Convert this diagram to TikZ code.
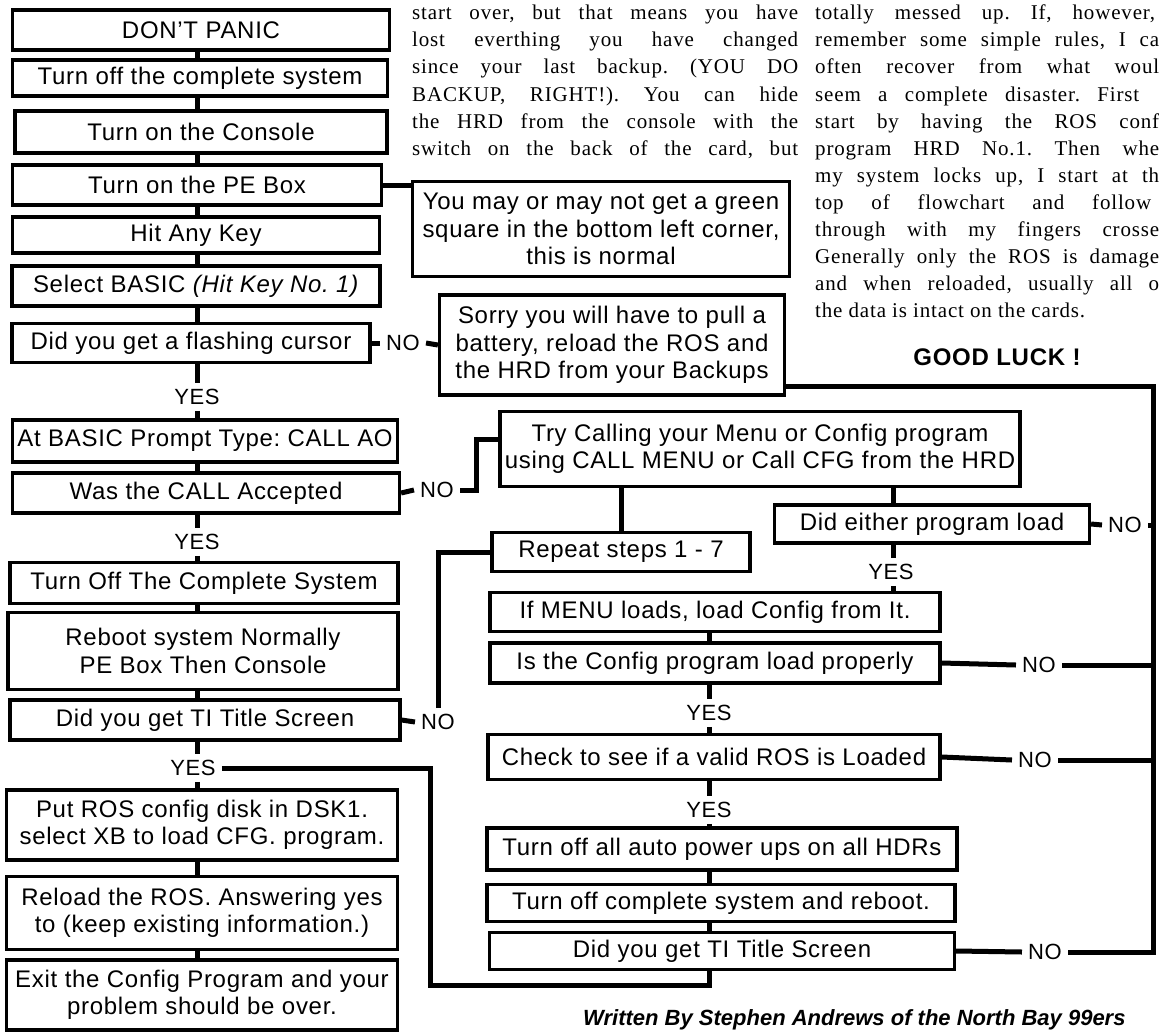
\documentclass[tikz,border=0pt]{standalone}
\usepackage{fontspec}
\setmainfont{Liberation Serif}[LetterSpace=4]
\setsansfont{Liberation Sans}[LetterSpace=3]
\newfontfamily\creditfont{Liberation Sans}
\usetikzlibrary{positioning}
\frenchspacing
\newcommand{\boxsize}{\fontsize{24}{27.5}\selectfont\sffamily}
\newcommand{\notesize}{\fontsize{21}{27}\selectfont\rmfamily}
\newcommand{\jline}[2]{\makebox[#1][s]{#2}}
\tikzset{stepbox/.style={draw=black, line width=3.2pt, fill=white, font=\boxsize, inner sep=0pt, align=center},
  link/.style={line width=5pt},
  answer/.style={font=\fontsize{22}{26}\selectfont\sffamily, inner sep=6pt},
  noteline/.style={font=\notesize, anchor=base west, inner sep=0pt},}

\begin{document}
\begin{tikzpicture}[x=1pt, y=-1pt]
\useasboundingbox (0,0) rectangle (1159,1033);
\clip (0,0) rectangle (1159,1033);
% notes at the top
\node [noteline] (mid1) at (412,20) {\jline{386pt}{start over, but that means you have}};
\node [noteline] (mid2) at (412,47) {\jline{386pt}{lost everthing you have changed}};
\node [noteline] (mid3) at (412,74) {\jline{386pt}{since your last backup. (YOU DO}};
\node [noteline] (mid4) at (412,101) {\jline{386pt}{BACKUP, RIGHT!). You can hide}};
\node [noteline] (mid5) at (412,128) {\jline{386pt}{the HRD from the console with the}};
\node [noteline] (mid6) at (412,155) {\jline{386pt}{switch on the back of the card, but}};
\node [noteline] (side1) at (815,20) {\jline{340pt}{totally messed up. If, however,}};
\node [noteline] (side2) at (815,47) {\jline{344pt}{remember some simple rules, I ca}};
\node [noteline] (side3) at (815,74) {\jline{344pt}{often recover from what woul}};
\node [noteline] (side4) at (815,101) {\jline{324pt}{seem a complete disaster. First}};
\node [noteline] (side5) at (815,128) {\jline{344pt}{start by having the ROS conf}};
\node [noteline] (side6) at (815,155) {\jline{344pt}{program HRD No.1. Then whe}};
\node [noteline] (side7) at (815,182) {\jline{344pt}{my system locks up, I start at th}};
\node [noteline] (side8) at (815,209) {\jline{336pt}{top of flowchart and follow}};
\node [noteline] (side9) at (815,236) {\jline{344pt}{through with my fingers crosse}};
\node [noteline] (side10) at (815,263) {\jline{344pt}{Generally only the ROS is damage}};
\node [noteline] (side11) at (815,290) {\jline{344pt}{and when reloaded, usually all o}};
\node [noteline] (side12) at (815,317) {the data is intact on the cards.};
\node [font=\fontsize{24}{28}\selectfont\sffamily\bfseries, inner sep=0pt] (luck) at (997,357) {GOOD LUCK !};
% left column
\node [stepbox, minimum width=377pt, minimum height=40pt] (panic) at (201,30) {DON'T PANIC};
\node [stepbox, minimum width=375pt, minimum height=36pt] (offsys) at (200,78) {Turn off the complete system};
\node [stepbox, minimum width=372pt, minimum height=42pt] (console) at (201,132) {Turn on the Console};
\node [stepbox, minimum width=369pt, minimum height=40pt] (pebox) at (197,185) {Turn on the PE Box};
\node [stepbox, minimum width=367pt, minimum height=36pt] (anykey) at (196,235) {Hit Any Key};
\node [stepbox, minimum width=368pt, minimum height=40pt] (basic) at (196,286) {Select BASIC \textit{(Hit Key No. 1)}};
\node [stepbox, minimum width=358pt, minimum height=39pt] (cursor) at (191,343) {Did you get a flashing cursor};
\node [answer] (yes1) at (197,397) {YES};
\node [stepbox, minimum width=385pt, minimum height=42pt] (prompt) at (205,441) {At BASIC Prompt Type: CALL AO};
\node [stepbox, minimum width=387pt, minimum height=40pt] (accepted) at (206,493) {Was the CALL Accepted};
\node [answer] (yes2) at (197,542) {YES};
\node [stepbox, minimum width=388pt, minimum height=41pt] (offall) at (204,583) {Turn Off The Complete System};
\node [stepbox, minimum width=390pt, minimum height=77pt] (reboot) at (203,651) {Reboot system Normally\\PE Box Then Console};
\node [stepbox, minimum width=390pt, minimum height=40pt] (title1) at (205,720) {Did you get TI Title Screen};
\node [answer] (yes3) at (193,768) {YES};
\node [stepbox, minimum width=391pt, minimum height=70pt] (rosdisk) at (202,825) {Put ROS config disk in DSK1.\\select XB to load CFG. program.};
\node [stepbox, minimum width=391pt, minimum height=73pt] (reload) at (202,913) {Reload the ROS. Answering yes\\to (keep existing information.)};
\node [stepbox, minimum width=391pt, minimum height=70pt] (exitcfg) at (202,995) {Exit the Config Program and your\\problem should be over.};
% middle and right
\node [stepbox, minimum width=377pt, minimum height=95pt] (maynot) at (601,229) {You may or may not get a green\\square in the bottom left corner,\\this is normal};
\node [stepbox, minimum width=345pt, minimum height=100pt] (sorry) at (612,345) {Sorry you will have to pull a\\battery, reload the ROS and\\the HRD from your Backups};
\node [stepbox, minimum width=520pt, minimum height=75pt] (try) at (760,449) {Try Calling your Menu or Config program\\using CALL MENU or Call CFG from the HRD};
\node [stepbox, minimum width=258pt, minimum height=39pt] (repeat) at (621,552) {Repeat steps 1 - 7};
\node [stepbox, minimum width=315pt, minimum height=38pt] (either) at (932,524) {Did either program load};
\node [answer] (yes4) at (891,572) {YES};
\node [stepbox, minimum width=450pt, minimum height=39pt] (ifmenu) at (715,612) {If MENU loads, load Config from It.};
\node [stepbox, minimum width=450pt, minimum height=40pt] (isconfig) at (715,663) {Is the Config program load properly};
\node [answer] (yes5) at (709,713) {YES};
\node [stepbox, minimum width=452pt, minimum height=45pt] (checkros) at (714,757) {Check to see if a valid ROS is Loaded};
\node [answer] (yes6) at (709,810) {YES};
\node [stepbox, minimum width=470pt, minimum height=42pt] (autopower) at (722,849) {Turn off all auto power ups on all HDRs};
\node [stepbox, minimum width=468pt, minimum height=37pt] (rebootoff) at (721,903) {Turn off complete system and reboot.};
\node [stepbox, minimum width=465pt, minimum height=37pt] (title2) at (722,951) {Did you get TI Title Screen};
\node [answer] (no1) at (403,343) {NO};
\node [answer] (no2) at (437,490) {NO};
\node [answer] (no3) at (438,722) {NO};
\node [answer] (no4) at (1125,525) {NO};
\node [answer] (no5) at (1039,665) {NO};
\node [answer] (no6) at (1035,760) {NO};
\node [answer] (no7) at (1045,952) {NO};
\node [font=\fontsize{22}{26}\selectfont\creditfont\bfseries\itshape, anchor=base west, inner sep=0pt] (credit) at (583,1025) {Written By Stephen Andrews of the North Bay 99ers};
% connectors
\coordinate (spine) at (197,0);
\coordinate (midline) at (709,0);
\coordinate (tap) at (893,0);
\coordinate (rbot) at (1153,952);
\coordinate (tryjog) at (476,490);
\coordinate (lowleft) at (430,985);
\foreach \a/\b in {panic/offsys, offsys/console, console/pebox, pebox/anykey, anykey/basic, basic/cursor,
  cursor/yes1, yes1/prompt, prompt/accepted, accepted/yes2, yes2/offall, offall/reboot, reboot/title1,
  title1/yes3, yes3/rosdisk, rosdisk/reload, reload/exitcfg}
  \draw[link] (\a.south -| spine) -- (\b.north -| spine);
\foreach \a/\b in {ifmenu/isconfig, isconfig/yes5, yes5/checkros, checkros/yes6, yes6/autopower,
  autopower/rebootoff, rebootoff/title2}
  \draw[link] (\a.south -| midline) -- (\b.north -| midline);
\draw[link] (pebox.east) -- (pebox.east -| maynot.west);
\draw[link] (cursor.east) -- (no1.west);
\draw[link] (no1.east) -- (sorry.west);
\draw[link] (accepted.east) -- (no2.west);
\draw[link] (no2.east) -- (tryjog) |- ([yshift=10pt]try.west);
\draw[link] (repeat.north |- try.south) -- (repeat.north);
\draw[link] (try.south -| tap) -- (either.north -| tap);
\draw[link] (either.south -| tap) -- (yes4.north -| tap);
\draw[link] (yes4.south -| tap) -- (ifmenu.north -| tap);
\draw[link] (title1.east) -- (no3.west);
\draw[link] (no3.north) |- (repeat.west);
\draw[link] (yes3.east) -| (lowleft) -| (title2.south -| midline);
\draw[link] ([yshift=10pt]sorry.south east) -| (rbot) -- (no7.east);
\draw[link] (either.east) -- (no4.west);
\draw[link] (no4.east) -- (no4.east -| rbot);
\draw[link] (isconfig.east) -- (no5.west);
\draw[link] (no5.east) -- (no5.east -| rbot);
\draw[link] (checkros.east) -- (no6.west);
\draw[link] (no6.east) -- (no6.east -| rbot);
\draw[link] (title2.east) -- (no7.west);
\end{tikzpicture}
\end{document}
